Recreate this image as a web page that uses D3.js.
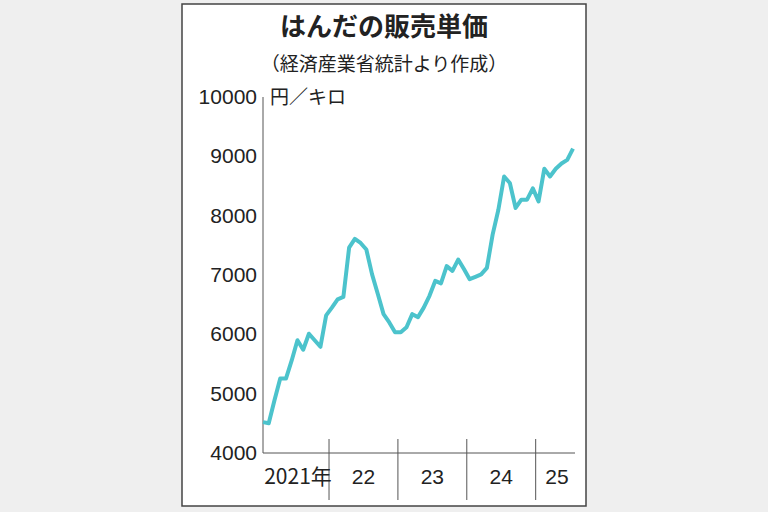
<!DOCTYPE html>
<html>
<head>
<meta charset="utf-8">
<script src="https://cdn.jsdelivr.net/npm/d3@7"></script>
<style>
  body { margin: 0; background: #efefef; }
  text { font-family: "Noto Sans CJK JP", "Liberation Sans", sans-serif; fill: #222; }
  text.num { font-family: "Liberation Sans", sans-serif; }
</style>
</head>
<body>
<svg id="chart" width="768" height="512"></svg>
<script>
// monthly price, Jan 2021 - Jul 2025 (yen per kg)
const prices = [
  4520, 4500, 4890, 5255, 5255, 5560, 5900, 5740, 6010, 5900, 5790, 6320,
  6450, 6590, 6630, 7460, 7610, 7540, 7430, 7010, 6680, 6340, 6200, 6035,
  6035, 6120, 6340, 6290, 6450, 6650, 6900, 6860, 7150, 7070, 7260, 7100,
  6930, 6970, 7010, 7120, 7680, 8100, 8660, 8550, 8130, 8270, 8270, 8460,
  8240, 8790, 8660, 8790, 8880, 8940, 9130
];
const yTicks = [4000, 5000, 6000, 7000, 8000, 9000, 10000];
const yearLabels = ["2021年", "22", "23", "24", "25"];
const yearStarts = [0, 12, 24, 36, 48]; // month index where each year starts

const svg = d3.select("#chart");

// white framed panel
svg.append("rect").attr("x", 182).attr("y", 4).attr("width", 404).attr("height", 502)
  .attr("fill", "#fff").attr("stroke", "#444").attr("stroke-width", 1.5);

svg.append("text").attr("x", 384).attr("y", 36).attr("text-anchor", "middle")
  .attr("font-size", 26).attr("font-weight", "bold").text("はんだの販売単価");
svg.append("text").attr("x", 384).attr("y", 71).attr("text-anchor", "middle")
  .attr("font-size", 19).text("（経済産業省統計より作成）");

const x = d3.scaleLinear().domain([0, 54]).range([263, 573]);
const y = d3.scaleLinear().domain([4000, 10000]).range([453, 97]);

const g = svg.append("g");

// y axis
g.append("line").attr("x1", 263).attr("x2", 263).attr("y1", y(10000)).attr("y2", y(4000))
  .attr("stroke", "#555").attr("stroke-width", 1);
g.selectAll(".ylab").data(yTicks).join("text").attr("class", "num")
  .attr("x", 257).attr("y", d => y(d) + 7).attr("text-anchor", "end")
  .attr("font-size", 21).text(d => d);
g.append("text").attr("x", 270).attr("y", y(10000) + 7).attr("font-size", 19).text("円／キロ");

// x axis
g.append("line").attr("x1", 263).attr("x2", 575).attr("y1", y(4000)).attr("y2", y(4000))
  .attr("stroke", "#555").attr("stroke-width", 1);
g.selectAll(".div").data(yearStarts.slice(1)).join("line")
  .attr("x1", d => x(d - 0.5)).attr("x2", d => x(d - 0.5))
  .attr("y1", y(4000) - 14).attr("y2", 500)
  .attr("stroke", "#555").attr("stroke-width", 1);
g.selectAll(".xlab").data(yearLabels).join("text")
  .attr("class", (d, i) => i === 0 ? null : "num")
  .attr("x", (d, i) => i === 0 ? 298 : i === 4 ? 557 : x(yearStarts[i] + 5.5))
  .attr("y", 484).attr("text-anchor", "middle").attr("font-size", 21)
  .text(d => d);

// line
g.append("path").datum(prices)
  .attr("d", d3.line().x((d, i) => x(i)).y(d => y(d)))
  .attr("fill", "none").attr("stroke", "#4cc3cc").attr("stroke-width", 4)
  .attr("stroke-linejoin", "round");
</script>
</body>
</html>
